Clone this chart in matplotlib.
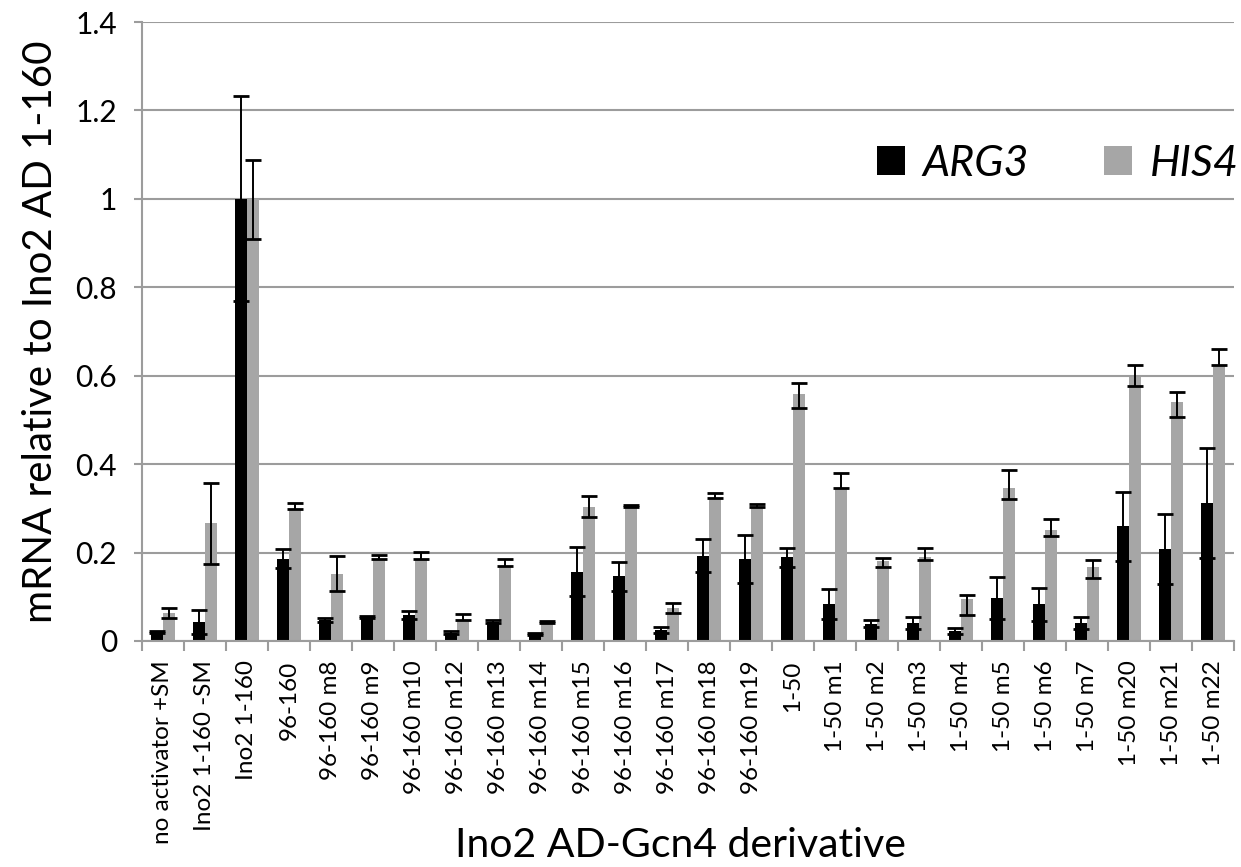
import matplotlib.pyplot as plt
import numpy as np

plt.rcParams['font.family'] = ['Lato', 'DejaVu Sans']

# data
categories = ['no activator +SM', 'Ino2 1-160 -SM', 'Ino2 1-160', '96-160',
              '96-160 m8', '96-160 m9', '96-160 m10', '96-160 m12', '96-160 m13',
              '96-160 m14', '96-160 m15', '96-160 m16', '96-160 m17', '96-160 m18',
              '96-160 m19', '1-50', '1-50 m1', '1-50 m2', '1-50 m3', '1-50 m4',
              '1-50 m5', '1-50 m6', '1-50 m7', '1-50 m20', '1-50 m21', '1-50 m22']

arg3 = [0.020, 0.043, 1.000, 0.186, 0.047, 0.054, 0.059, 0.019, 0.044, 0.016,
        0.157, 0.146, 0.025, 0.193, 0.186, 0.189, 0.083, 0.039, 0.041, 0.023,
        0.097, 0.083, 0.040, 0.259, 0.208, 0.312]
arg3_err = [0.002, 0.027, 0.232, 0.022, 0.005, 0.002, 0.009, 0.004, 0.004, 0.002,
            0.056, 0.032, 0.006, 0.038, 0.054, 0.022, 0.034, 0.008, 0.014, 0.007,
            0.048, 0.037, 0.014, 0.078, 0.080, 0.124]

his4 = [0.063, 0.266, 1.000, 0.298, 0.152, 0.185, 0.186, 0.047, 0.169, 0.043,
        0.303, 0.305, 0.074, 0.323, 0.302, 0.558, 0.346, 0.180, 0.189, 0.096,
        0.346, 0.252, 0.168, 0.598, 0.540, 0.625]
his4_lo = [0.011, 0.092, 0.090, 0.000, 0.040, 0.000, 0.000, 0.000, 0.000, 0.002,
           0.023, 0.002, 0.011, 0.000, 0.000, 0.032, 0.000, 0.012, 0.006, 0.038,
           0.024, 0.015, 0.025, 0.022, 0.034, 0.000]
his4_hi = [0.011, 0.092, 0.089, 0.013, 0.040, 0.010, 0.016, 0.014, 0.016, 0.002,
           0.024, 0.002, 0.012, 0.011, 0.008, 0.025, 0.033, 0.007, 0.022, 0.008,
           0.040, 0.024, 0.015, 0.026, 0.023, 0.035]

yticks = [0, 0.2, 0.4, 0.6, 0.8, 1.0, 1.2, 1.4]
ytick_labels = ['0', '0.2', '0.4', '0.6', '0.8', '1', '1.2', '1.4']

grid_col = '#9c9c9c'
grey_bar = '#a6a6a6'

fig = plt.figure(figsize=(12.41, 8.67), dpi=100)
ax = fig.add_axes([0.1144, 0.2607, 0.8800, 0.7139])

x = np.arange(len(categories))
w = 0.28

ax.bar(x - w/2, arg3, w, color='black', label='ARG3', zorder=2)
ax.bar(x + w/2, his4, w, color=grey_bar, label='HIS4', zorder=2)

ax.errorbar(x - w/2, arg3, yerr=arg3_err, fmt='none', ecolor='black',
            elinewidth=1.4, capsize=6, capthick=2, zorder=3)
ax.errorbar(x + w/2, his4, yerr=[his4_lo, his4_hi], fmt='none', ecolor='black',
            elinewidth=1.4, capsize=6, capthick=2, zorder=3)

ax.set_xlim(-0.5, len(categories) - 0.5)
ax.set_ylim(0, 1.4)
ax.set_yticks(yticks)
ax.set_yticklabels(ytick_labels, fontsize=21.5)
ax.yaxis.grid(True, color=grid_col, linewidth=1.5, zorder=0)
ax.set_axisbelow(True)

ax.set_xticks(x)
ax.set_xticklabels(categories, rotation=90, fontsize=17.5, va='top')
ax.set_xticks(np.arange(-0.5, len(categories), 1), minor=True)
ax.tick_params(axis='x', which='major', length=0, pad=14)
ax.tick_params(axis='x', which='minor', length=7, width=1.5, color=grid_col)
ax.tick_params(axis='y', length=6, width=1.5, color=grid_col, pad=12)

for s in ['top', 'right']:
    ax.spines[s].set_visible(False)
for s in ['left', 'bottom']:
    ax.spines[s].set_color(grid_col)
    ax.spines[s].set_linewidth(1.5)

ax.set_ylabel('mRNA relative to Ino2 AD 1-160', fontsize=29, labelpad=12)
fig.text(0.548, 0.003, 'Ino2 AD-Gcn4 derivative', fontsize=29.5,
         ha='center', va='bottom')

leg = fig.legend(loc='center right', bbox_to_anchor=(0.998, 0.811), ncol=2,
                 frameon=False, prop={'style': 'italic', 'size': 31},
                 handlelength=0.66, handleheight=0.66, handletextpad=0.4,
                 columnspacing=1.75, borderpad=0, borderaxespad=0)

fig.savefig('out.png', dpi=100)
